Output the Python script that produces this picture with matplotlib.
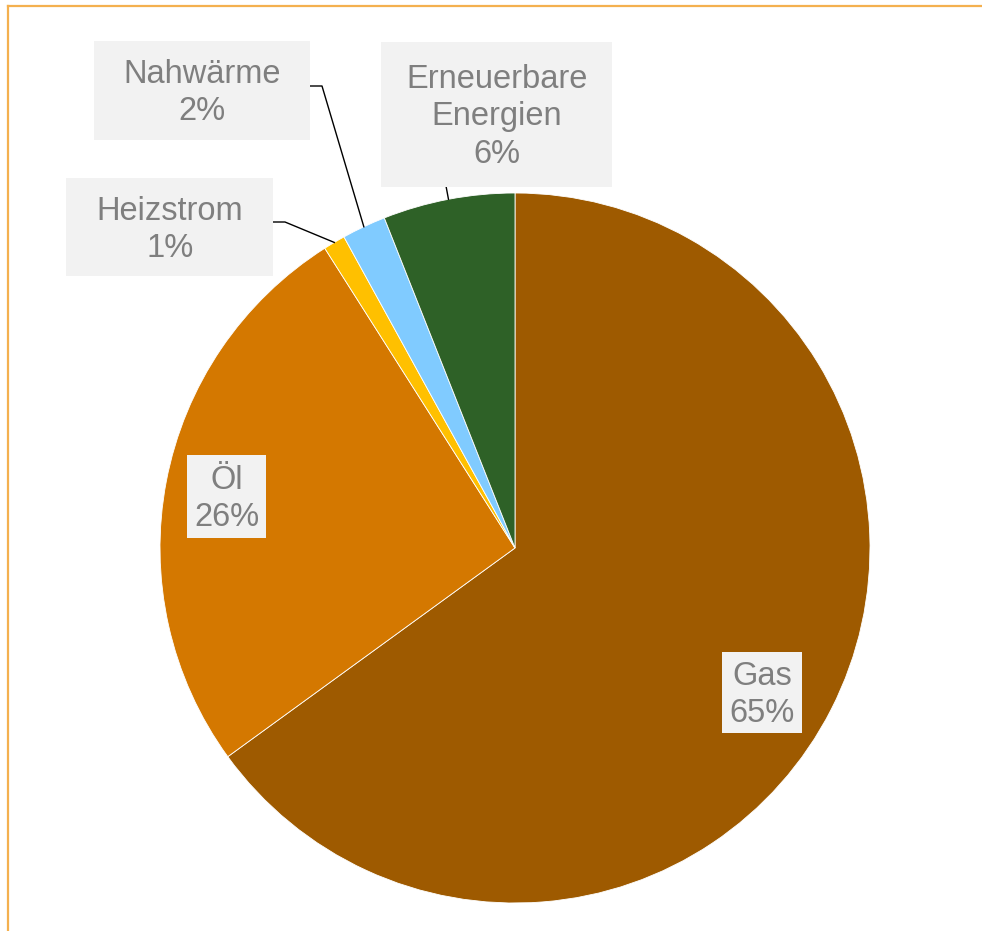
import numpy as np
import matplotlib.pyplot as plt
from matplotlib.patches import Rectangle

plt.rcParams['font.family'] = ['Liberation Sans', 'DejaVu Sans']

# Heizungsarten, Anteil in Prozent
labels = ['Gas', 'Öl', 'Heizstrom', 'Nahwärme', 'Erneuerbare\nEnergien']
shares = [65, 26, 1, 2, 6]
colors = ['#9E5A00', '#D47800', '#FFC000', '#80CBFF', '#2E6127']

W, H = 982, 931
cx, cy, r = 515, H - 548, 355

# label boxes: centre x, centre y (pixels from top), width, height
boxes = [(762, 692, 80, 81), (227, 496, 79, 83), (170, 227, 207, 98),
         (202, 90, 216, 99), (497, 114, 231, 145)]
# leader elbows (pixels from top), None = no leader
elbows = [None, None, (273, 222, 285), (310, 86, 322), (446, 186, 446)]

fig = plt.figure(figsize=(W / 100, H / 100), dpi=100)
ax = fig.add_axes([0, 0, 1, 1])

wedges, _ = ax.pie(shares, colors=colors, startangle=90, counterclock=False,
                   radius=r, center=(cx, cy), frame=True,
                   wedgeprops=dict(edgecolor='white', linewidth=0.6))
ax.set_xlim(0, W)
ax.set_ylim(0, H)
ax.set_aspect('equal')
ax.axis('off')

for w, lab, v, (bx, by, bw, bh), el in zip(wedges, labels, shares, boxes, elbows):
    if el is not None:
        mid = np.deg2rad((w.theta1 + w.theta2) / 2)
        px, py = cx + r * np.cos(mid), cy + r * np.sin(mid)
        ex, ey, kx = el
        ax.plot([ex, kx, px], [H - ey, H - ey, py], color='black', lw=1,
                zorder=1)
    ax.add_patch(Rectangle((bx - bw / 2, H - by - bh / 2), bw, bh,
                           facecolor='#F2F2F2', edgecolor='none', zorder=3))
    ax.text(bx, H - by - 3, f'{lab}\n{v}%', ha='center', va='center',
            fontsize=23.5, color='#7F7F7F', linespacing=1.27, zorder=4)

# Rahmen oben und links
fig.add_artist(plt.Line2D([7.5 / W, 1], [1 - 5.5 / H, 1 - 5.5 / H],
                          color='#F4B04F', lw=1.6))
fig.add_artist(plt.Line2D([7.5 / W, 7.5 / W], [0, 1 - 5.5 / H],
                          color='#F4B04F', lw=1.6))

fig.savefig('out.png', dpi=100)
